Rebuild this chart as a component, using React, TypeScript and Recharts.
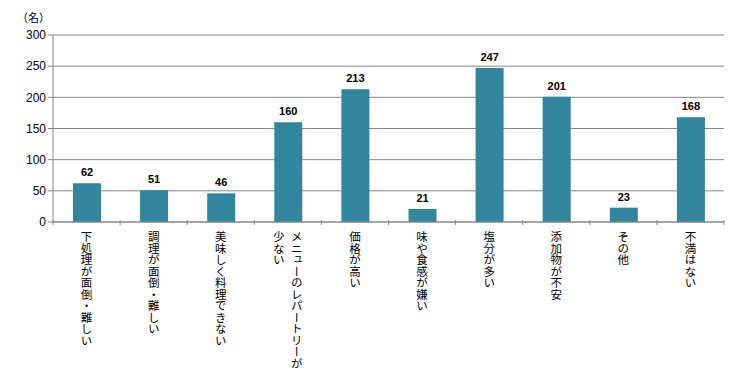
import React from "react";
import { BarChart, Bar, XAxis, YAxis, CartesianGrid, LabelList } from "recharts";

const categories = [
  "下処理が面倒・難しい",
  "調理が面倒・難しい",
  "美味しく料理できない",
  "メニューのレパートリーが少ない",
  "価格が高い",
  "味や食感が嫌い",
  "塩分が多い",
  "添加物が不安",
  "その他",
  "不満はない",
];
const values = [62, 51, 46, 160, 213, 21, 247, 201, 23, 168];
const yTicks = [0, 50, 100, 150, 200, 250, 300];
const unitLabel = "（名）";

const data = categories.map((c, i) => ({ name: c, value: values[i] }));

const W = 756;
const H = 378;
const M = { top: 35, right: 32, left: 0, bottom: 0 };
const Y_W = 53;
const X_H = 156;
const BAND = (W - Y_W - M.right) / categories.length;
const FONT = "'Noto Sans CJK JP', 'Noto Sans', sans-serif";

const splitLabel = (s: string): string[] => {
  if (s === "メニューのレパートリーが少ない") return ["メニューのレパートリーが", "少ない"];
  return [s];
};

const XTick = (props: any) => {
  const { x, y, payload, index } = props;
  const lines = splitLabel(payload.value);
  const colGap = 18;
  const n = lines.length;
  return (
    <g>
      {index === 0 && (
        <line x1={x - BAND / 2} y1={y - 8} x2={x - BAND / 2} y2={y - 3} stroke="#868686" />
      )}
      <line x1={x + BAND / 2} y1={y - 8} x2={x + BAND / 2} y2={y - 3} stroke="#868686" />
      {lines.map((l, i) => (
        <text
          key={i}
          x={x + ((n - 1) / 2 - i) * colGap}
          y={y + 3}
          fontSize={11.5}
          fontFamily={FONT}
          fill="#000"
          style={{ writingMode: "vertical-rl" as any }}
        >
          {l}
        </text>
      ))}
    </g>
  );
};

export default function App() {
  return (
    <div style={{ position: "absolute", left: 0, top: 0, width: W, height: H, background: "#fff" }}>
      <BarChart width={W} height={H} data={data} margin={M} barSize={28}>
        <CartesianGrid vertical={false} stroke="#868686" strokeWidth={1} />
        <XAxis
          dataKey="name"
          interval={0}
          height={X_H}
          stroke="#868686"
          tickLine={false}
          tick={<XTick />}
          tickMargin={0}
        />
        <YAxis
          width={Y_W}
          domain={[0, 300]}
          ticks={yTicks}
          stroke="#868686"
          tickSize={5}
          tick={{ fill: "#000", fontSize: 12, fontFamily: "'Liberation Sans', sans-serif" }}
        />
        <Bar dataKey="value" fill="#31859C" isAnimationActive={false}>
          <LabelList
            dataKey="value"
            position="top"
            offset={7}
            fill="#000"
            fontSize={11}
            fontWeight="bold"
            fontFamily="'Liberation Sans', sans-serif"
          />
        </Bar>
        <text x={17} y={22} fontSize={11} fontFamily={FONT} fill="#000">
          {unitLabel}
        </text>
      </BarChart>
    </div>
  );
}
